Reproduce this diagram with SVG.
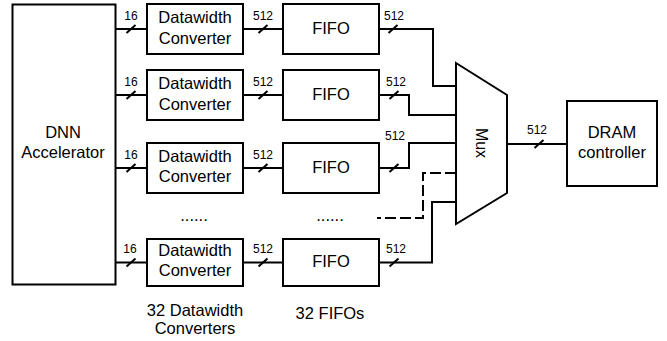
<svg xmlns="http://www.w3.org/2000/svg" width="667" height="341" viewBox="0 0 667 341">
<style>
.box{fill:#fff;stroke:#000;stroke-width:2}
.ln{fill:none;stroke:#000;stroke-width:2}
.dash{fill:none;stroke:#000;stroke-width:2;stroke-dasharray:11 4}
.t{font-family:"Liberation Sans",Arial,sans-serif;font-size:16.5px;text-anchor:middle;fill:#000}
.s{font-family:"Liberation Sans",Arial,sans-serif;font-size:12px;text-anchor:middle;fill:#000}
</style>
<defs>
<path id="sl" d="M-4.5,4 L4.5,-4" class="ln"/>
</defs>
<rect width="667" height="341" fill="#fff"/>
<g id="connectors">
<path class="ln" d="M116,29 H147 M116,95 H147 M116,168 H147 M116,262.5 H147"/>
<path class="ln" d="M243,29 H283 M243,95 H283 M243,168 H283 M243,262.5 H283"/>
<path class="ln" d="M379,29 H433 V86 H456"/>
<path class="ln" d="M379,95 H409 V115 H456"/>
<path class="ln" d="M379,168 H409 V143 H456"/>
<path class="dash" d="M456,173 H423 V218 H377"/>
<path class="ln" d="M379,262.5 H432 V202 H456"/>
<path class="ln" d="M507,144 H567"/>
<use href="#sl" x="131" y="29"/><use href="#sl" x="131" y="95"/><use href="#sl" x="131" y="168"/><use href="#sl" x="131" y="262.5"/>
<use href="#sl" x="263" y="29"/><use href="#sl" x="263" y="95"/><use href="#sl" x="263" y="168"/><use href="#sl" x="263" y="262.5"/>
<use href="#sl" x="393" y="29"/><use href="#sl" x="394" y="95"/><use href="#sl" x="394" y="168"/><use href="#sl" x="394" y="262.5"/>
<use href="#sl" x="539" y="144"/>
<text class="s" x="131" y="19.5">16</text><text class="s" x="131" y="85.5">16</text><text class="s" x="131" y="158.5">16</text><text class="s" x="130" y="253">16</text>
<text class="s" x="263" y="20">512</text><text class="s" x="263" y="86">512</text><text class="s" x="263" y="159">512</text><text class="s" x="263" y="253">512</text>
<text class="s" x="394" y="20">512</text><text class="s" x="396" y="86">512</text><text class="s" x="395" y="140">512</text><text class="s" x="396" y="253">512</text>
<text class="s" x="537" y="134">512</text>
</g>
<g id="dnn"><rect class="box" x="12.5" y="4.5" width="103" height="280"/><text class="t" x="63" y="137.5">DNN</text><text class="t" x="63" y="158">Accelerator</text></g>
<g id="dc1"><rect class="box" x="147" y="4" width="96" height="50"/><text class="t" x="195" y="23">Datawidth</text><text class="t" x="195" y="43.5">Converter</text></g>
<g id="dc2"><rect class="box" x="147" y="70" width="96" height="50"/><text class="t" x="195" y="89">Datawidth</text><text class="t" x="195" y="109.5">Converter</text></g>
<g id="dc3"><rect class="box" x="147" y="143" width="96" height="50"/><text class="t" x="195" y="162">Datawidth</text><text class="t" x="195" y="182">Converter</text></g>
<g id="dc32"><rect class="box" x="147" y="239" width="96" height="47"/><text class="t" x="195" y="256">Datawidth</text><text class="t" x="195" y="276">Converter</text></g>
<g id="fifo1"><rect class="box" x="283" y="4" width="96" height="50"/><text class="t" x="331" y="34">FIFO</text></g>
<g id="fifo2"><rect class="box" x="283" y="70" width="96" height="50"/><text class="t" x="331" y="100">FIFO</text></g>
<g id="fifo3"><rect class="box" x="283" y="143" width="96" height="50"/><text class="t" x="331" y="172.5">FIFO</text></g>
<g id="fifo32"><rect class="box" x="283" y="239" width="96" height="47"/><text class="t" x="331" y="266.5">FIFO</text></g>
<g id="dots"><text class="t" x="194" y="220.5">......</text><text class="t" x="330" y="220.5">......</text></g>
<g id="mux"><polygon class="box" points="456,63 507,95 507,193 456,224"/><text class="t" transform="translate(481,143) rotate(90)" x="0" y="5.5" style="font-size:16px">Mux</text></g>
<g id="dram"><rect class="box" x="567" y="101" width="90" height="85"/><text class="t" x="612" y="137.5">DRAM</text><text class="t" x="612" y="158">controller</text></g>
<g id="labels"><text class="t" x="195" y="316">32 Datawidth</text><text class="t" x="195" y="334">Converters</text><text class="t" x="330" y="319">32 FIFOs</text></g>
</svg>
